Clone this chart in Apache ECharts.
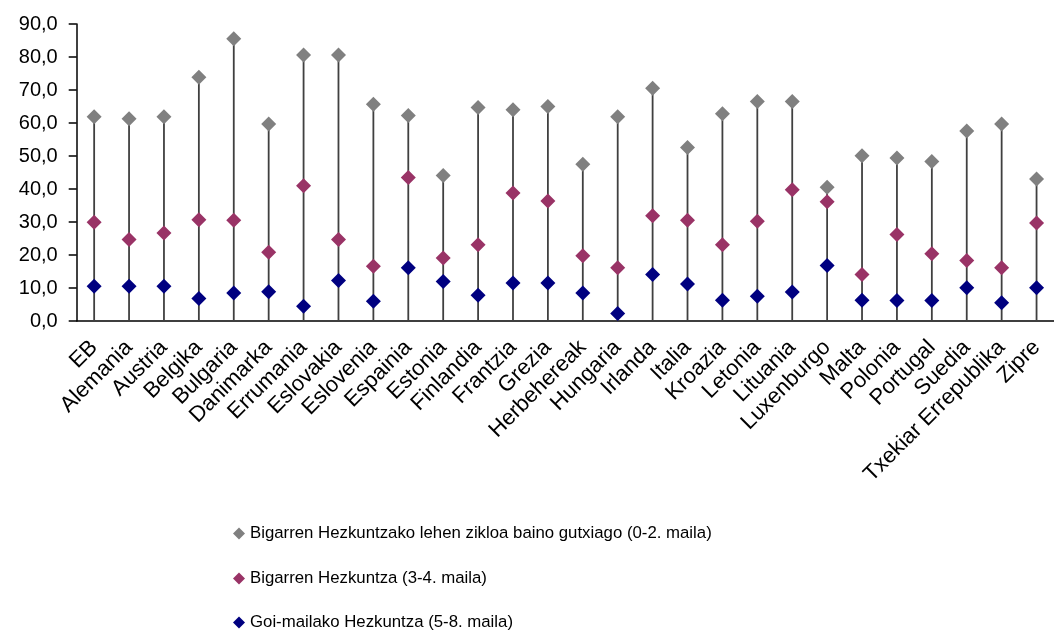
<!DOCTYPE html>
<html>
<head>
<meta charset="utf-8">
<script src="https://cdn.jsdelivr.net/npm/echarts@6/dist/echarts.min.js"></script>
<style>html,body{margin:0;padding:0;background:#fff}#c{width:1054px;height:630px}</style>
</head>
<body>
<div id="c"></div>
<script>
const categories = ["EB","Alemania","Austria","Belgika","Bulgaria","Danimarka","Errumania","Eslovakia","Eslovenia","Espainia","Estonia","Finlandia","Frantzia","Grezia","Herbehereak","Hungaria","Irlanda","Italia","Kroazia","Letonia","Lituania","Luxenburgo","Malta","Polonia","Portugal","Suedia","Txekiar Errepublika","Zipre"];
const seriesNames = ["Bigarren Hezkuntzako lehen zikloa baino gutxiago (0-2. maila)","Bigarren Hezkuntza (3-4. maila)","Goi-mailako Hezkuntza (5-8. maila)"];
const lowEdu  = [61.9,61.3,61.9,73.9,85.5,59.7,80.6,80.6,65.7,62.3,44.1,64.7,64.0,65.0,47.5,61.9,70.5,52.6,62.8,66.5,66.5,40.5,50.1,49.4,48.3,57.6,59.7,43.0];
const midEdu  = [29.9,24.7,26.7,30.7,30.5,20.8,41.0,24.7,16.6,43.5,19.1,23.1,38.8,36.4,19.8,16.1,31.9,30.5,23.1,30.2,39.8,36.1,14.1,26.2,20.4,18.3,16.1,29.7];
const highEdu = [10.5,10.5,10.5,6.8,8.5,8.9,4.5,12.3,6.0,16.1,12.0,7.8,11.5,11.5,8.5,2.3,14.1,11.2,6.3,7.5,8.8,16.8,6.3,6.2,6.2,10.1,5.5,10.1];
const yTickFormat = v => v.toFixed(1).replace('.', ',');
const colors = ["#808080","#993366","#000080"];

const font = "'Liberation Sans', Arial, sans-serif";
const dropData = categories.map((c,i)=>[i, Math.max(lowEdu[i], midEdu[i], highEdu[i])]);
const legendTops = [525, 570, 614];

const chart = echarts.init(document.getElementById('c'), null, {renderer:'canvas'});
chart.setOption({
  animation:false,
  backgroundColor:'#fff',
  grid:{left:76.7, width:986, top:24, bottom:309, containLabel:false},
  legend: seriesNames.map((n,i)=>({
    orient:'vertical', left:233, top:legendTops[i], padding:0, itemWidth:12, itemHeight:12,
    data:[{name:n, icon:'diamond'}],
    textStyle:{fontFamily:font, fontSize:16.8, color:'#000'}
  })),
  xAxis:{
    type:'category', data:categories, boundaryGap:true,
    axisLine:{lineStyle:{color:'#000', width:1.5}},
    axisTick:{show:false},
    axisLabel:{rotate:45, interval:0, margin:23, fontFamily:font, fontSize:22, color:'#000'}
  },
  yAxis:{
    type:'value', min:0, max:90, interval:10,
    axisLine:{show:true, lineStyle:{color:'#000', width:1.5}},
    axisTick:{show:true, length:8, lineStyle:{color:'#000', width:1.5}},
    splitLine:{show:false},
    axisLabel:{margin:19, fontFamily:font, fontSize:20, color:'#000', formatter:yTickFormat}
  },
  series:[
    {
      type:'custom', name:'drop', silent:true, z:1,
      data:dropData,
      renderItem:(params, api)=>{
        const top = api.coord([api.value(0), api.value(1)]);
        const bot = api.coord([api.value(0), 0]);
        return {type:'line', shape:{x1:top[0], y1:top[1], x2:bot[0], y2:bot[1]},
          style:{stroke:'#404040', lineWidth:1.8}};
      }
    },
    {type:'scatter', name:seriesNames[0], data:lowEdu, symbol:'diamond', symbolSize:15, itemStyle:{color:colors[0], opacity:1}, z:3},
    {type:'scatter', name:seriesNames[1], data:midEdu, symbol:'diamond', symbolSize:15, itemStyle:{color:colors[1], opacity:1}, z:3},
    {type:'scatter', name:seriesNames[2], data:highEdu, symbol:'diamond', symbolSize:15, itemStyle:{color:colors[2], opacity:1}, z:3}
  ]
});
</script>
</body>
</html>
